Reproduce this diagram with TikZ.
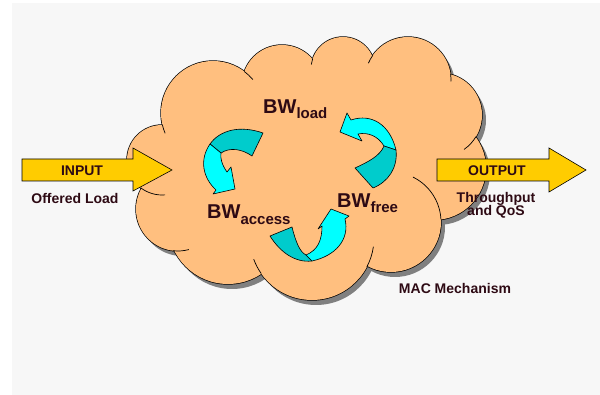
\documentclass[tikz,border=0pt]{standalone}
\usepackage{fontspec}
\setmainfont{Liberation Sans}
\definecolor{bgc}{HTML}{F7F7F7}
\definecolor{cloudc}{HTML}{FFBF7F}
\definecolor{shadc}{HTML}{808080}
\definecolor{yelc}{HTML}{FFCC00}
\definecolor{cyanL}{HTML}{00FFFF}
\definecolor{cyanD}{HTML}{00CCCC}
\definecolor{txtc}{HTML}{2E0A14}
\newcommand\fsz[1]{\fontsize{#1}{#1}\selectfont}
\tikzset{
  lbl/.style={inner sep=0pt, text=txtc, font=\bfseries\fsz{14}},
  bwlbl/.style={inner sep=0pt, text=txtc, anchor=base west},
  yarrow/.style={fill=yelc, draw=black, line width=0.6pt, line join=miter},
  ribL/.style={fill=cyanL, draw=black, line width=0.6pt, line join=round},
  ribD/.style={fill=cyanD, draw=black, line width=0.6pt, line join=round},
  frag/.style={draw=black, line width=0.7pt}
}
\def\lobes{213/113/52, 282/85/40, 343/69/32, 408/80/43, 440/115/42, 434/168/52, 391/222/50, 312/238/62, 228/224/60, 178/209/42, 162/160/35}
\def\poly{(213,113) -- (282,85) -- (343,69) -- (408,80) -- (440,115) -- (434,168) -- (391,222) -- (312,238) -- (228,224) -- (178,209) -- (162,160) -- cycle}
\begin{document}
\begin{tikzpicture}[x=1pt,y=-1pt]
\useasboundingbox (0,0) rectangle (600,395);
\fill[bgc] (12,3) rectangle (600,395);
% cloud shadow
\begin{scope}[shift={(4,5)}]
  \foreach \cx/\cy/\r in \lobes {\fill[shadc] (\cx,\cy) circle[radius=\r];}
  \fill[shadc] \poly;
\end{scope}
% cloud outline (outer half of thick stroke survives)
\foreach \cx/\cy/\r in \lobes {\filldraw[fill=cloudc, draw=black, line width=1.4pt] (\cx,\cy) circle[radius=\r];}
\foreach \cx/\cy/\r in \lobes {\fill[cloudc] (\cx,\cy) circle[radius=\r];}
\fill[cloudc] \poly;
% inner lobe fragments
\foreach \cx/\cy/\r/\a/\b in {213/113/52/167/157, 213/113/52/-53/-40, 343/69/32/-162/-172, 408/80/43/-145/-157, 408/80/43/-8/2, 440/115/42/31/55, 391/222/50/-3/-64, 312/238/62/28/8, 312/238/62/145/160, 178/209/42/97/75, 162/160/35/127/85}
  {\draw[frag] (\cx,\cy) ++(\a:\r) arc[start angle=\a, end angle=\b, radius=\r];}
% yellow arrows
\draw[yarrow] (22,159) -- (133,159) -- (133,148) -- (172,170) -- (133,191) -- (133,181) -- (22,181) -- cycle;
\draw[yarrow] (437,159) -- (549,159) -- (549,148) -- (586,170) -- (549,192) -- (549,181) -- (437,181) -- cycle;
\node[lbl] (in) at (82,171) {INPUT};
\node[lbl] (offl) at (75,198) {Offered Load};
\node[lbl] (out) at (497,171) {OUTPUT};
\node[lbl, align=center] (thr) at (496,205) {Throughput\\[-1pt]and QoS};
\node[lbl] (mac) at (455,288) {MAC Mechanism};
% ribbon arrow A (upper left)
\draw[ribD] (263,133) .. controls (240,125) and (220,130) .. (210,144) -- (221,153) .. controls (230,147) and (242,149) .. (252,156) -- cycle;
\draw[ribL] (210,144) .. controls (199,160) and (203,178) .. (216,190) -- (213,194) -- (235,189) -- (231,167) -- (227,172) .. controls (222,165) and (220,158) .. (221,153) -- cycle;
% ribbon arrow B (right)
\draw[ribL] (351,120) .. controls (372,113) and (390,125) .. (396,150) -- (384,146) .. controls (378,136) and (368,132) .. (358,134) -- (362,141) -- (340,132) -- (347,113) -- cycle;
\draw[ribD] (396,150) .. controls (398,168) and (388,182) .. (373,188) -- (355,168) .. controls (368,162) and (380,156) .. (384,146) -- cycle;
% ribbon arrow C (bottom)
\draw[ribD] (270,236) -- (292,227) .. controls (296,243) and (300,252) .. (306,255) -- (312,261) .. controls (295,263) and (280,252) .. (270,236) -- cycle;
\draw[ribL] (322,226) -- (318,229) -- (331,209) -- (349,216) -- (345,219) .. controls (350,240) and (335,256) .. (312,261) -- (306,255) .. controls (318,250) and (322,240) .. (322,226) -- cycle;
% BW labels
\node[bwlbl] (bwl) at (263,114) {\bfseries\fsz{20}BW\raisebox{-5pt}{\fsz{15}load}};
\node[bwlbl] (bwa) at (207,219) {\bfseries\fsz{20}BW\raisebox{-6pt}{\fsz{15}access}};
\node[bwlbl] (bwf) at (337,208) {\bfseries\fsz{20}BW\raisebox{-5pt}{\fsz{15}free}};
\end{tikzpicture}
\end{document}
